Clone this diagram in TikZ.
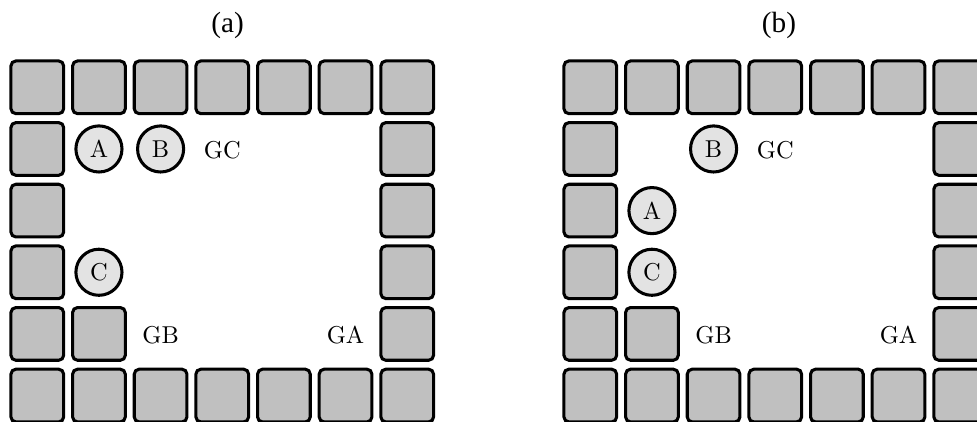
\documentclass[tikz,border=0pt]{standalone}
\usepackage{fontspec}
\newfontfamily\capfont{Liberation Serif}
\definecolor{cellgray}{RGB}{192,192,192}
\definecolor{agentgray}{RGB}{227,227,227}
\begin{document}
\begin{tikzpicture}[x=0.41pt,y=-0.41pt,
 cell/.style={draw=black, line width=1.25pt, fill=cellgray, rounded corners=2pt, minimum size=21.6pt, inner sep=0pt},
 agent/.style={circle, draw=black, line width=1.25pt, fill=agentgray, minimum size=18.9pt, inner sep=0pt, font=\fontsize{10}{12}\selectfont},
 lbl/.style={font=\fontsize{10}{12}\selectfont, inner sep=0pt},
 captext/.style={font=\capfont\fontsize{12}{14}\selectfont, inner sep=0pt}]
\useasboundingbox (0,0) rectangle (977,421);
\clip (0,0) rectangle (977,421);
\foreach \g/\ox in {l/37.3, r/590.3} {
  \foreach \i in {0,...,6} {
    \node[cell] (\g-\i-0) at ({\ox+61.65*\i},87.3) {};
    \node[cell] (\g-\i-5) at ({\ox+61.65*\i},395.55) {};
  }
  \foreach \j in {1,...,4} {
    \node[cell] (\g-0-\j) at (\ox,{87.3+61.65*\j}) {};
    \node[cell] (\g-6-\j) at ({\ox+61.65*6},{87.3+61.65*\j}) {};
  }
  \node[cell] (\g-1-4) at ({\ox+61.65},333.9) {};
}
% panel (a)
\node[captext] (capa) at (227.5,25) {(a)};
\node[agent] (la) at (98.95,148.95) {A};
\node[agent] (lb) at (160.6,148.95) {B};
\node[lbl] (lgc) at (222.25,150) {GC};
\node[agent] (lc) at (98.95,272.25) {C};
\node[lbl] (lgb) at (160.6,335) {GB};
\node[lbl] (lga) at (345.55,335) {GA};
% panel (b)
\node[captext] (capb) at (779,25) {(b)};
\node[agent] (rb) at (713.6,148.95) {B};
\node[lbl] (rgc) at (775.25,150) {GC};
\node[agent] (ra) at (651.95,210.6) {A};
\node[agent] (rc) at (651.95,272.25) {C};
\node[lbl] (rgb) at (713.6,335) {GB};
\node[lbl] (rga) at (898.55,335) {GA};
\end{tikzpicture}
\end{document}
